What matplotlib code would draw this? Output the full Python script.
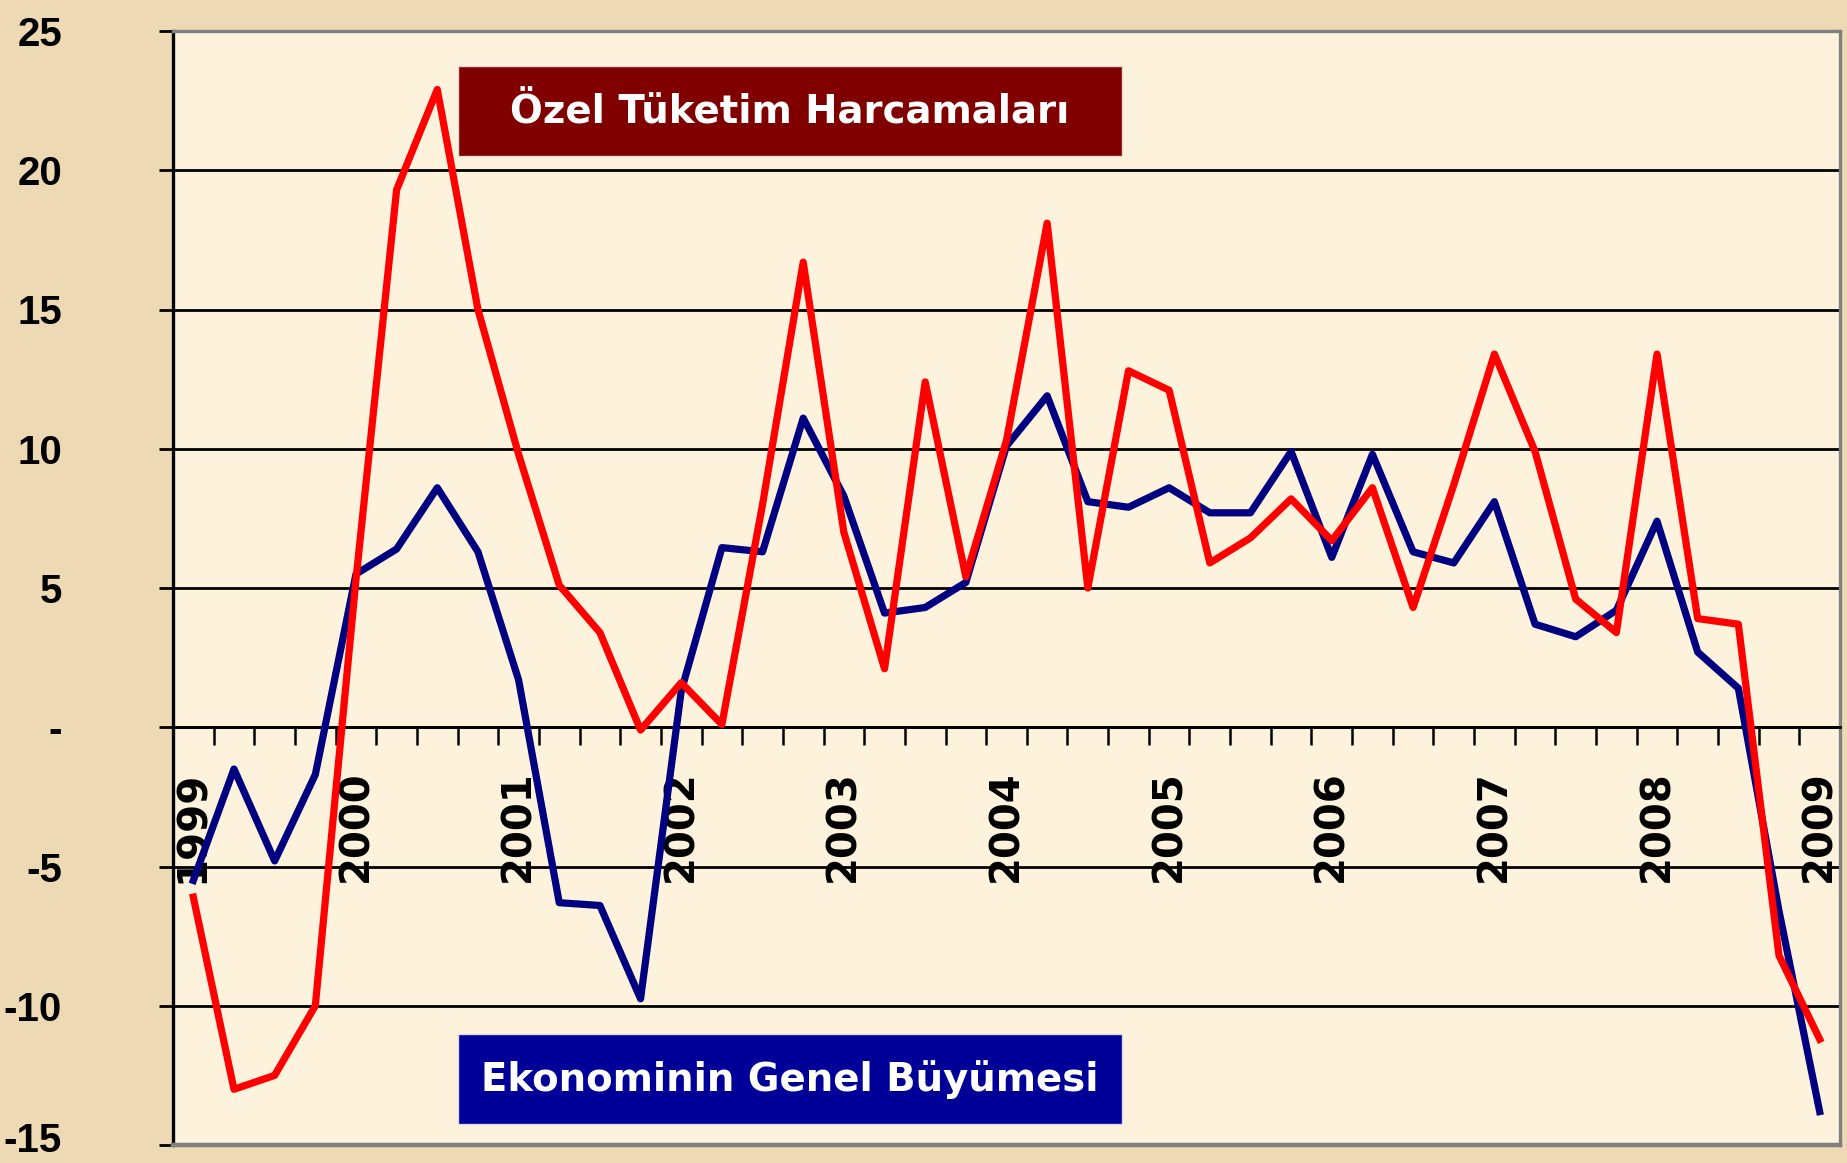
import matplotlib
matplotlib.use("Agg")
import matplotlib.pyplot as plt
import matplotlib.transforms as mtransforms
from matplotlib.patches import Rectangle

# quarterly growth, 1999 Q1 .. 2009 Q1
quarters = [f"{y}Q{q}" for y in range(1999, 2010) for q in range(1, 5)][:41]
year_labels = [str(y) for y in range(1999, 2010)]

ozel_tuketim = [-6.1, -13.0, -12.5, -10.0, 5.3, 19.3, 22.9, 15.0, 9.8, 5.1,
                3.4, -0.1, 1.6, 0.1, 8.0, 16.7, 7.0, 2.1, 12.4, 5.4,
                10.3, 18.1, 5.0, 12.8, 12.1, 5.9, 6.8, 8.2, 6.7, 8.6,
                4.3, 8.7, 13.4, 9.9, 4.6, 3.4, 13.4, 3.9, 3.7, -8.2, -11.2]
genel_buyume = [-5.5, -1.5, -4.8, -1.7, 5.5, 6.4, 8.6, 6.3, 1.7, -6.3,
                -6.4, -9.75, 1.3, 6.45, 6.3, 11.1, 8.3, 4.1, 4.3, 5.2,
                10.1, 11.9, 8.1, 7.9, 8.6, 7.7, 7.7, 9.9, 6.1, 9.8,
                6.3, 5.9, 8.1, 3.7, 3.25, 4.2, 7.4, 2.7, 1.4, -6.6, -13.8]

y_ticks = [25, 20, 15, 10, 5, 0, -5, -10, -15]
y_labels = ["25", "20", "15", "10", "5", "-", "-5", "-10", "-15"]

W, H = 1847, 1163
fig = plt.figure(figsize=(W / 100, H / 100), dpi=100, facecolor="#EDD9B3")
ax = fig.add_axes([173 / W, 18 / H, (1840 - 173) / W, (1145 - 31) / H])
ax.set_facecolor("#FDF3DD")

x = list(range(len(quarters)))
ax.plot(x, genel_buyume, color="#000080", lw=5.2, zorder=3)
ax.plot(x, ozel_tuketim, color="#FF0000", lw=5.2, zorder=4)

ax.set_xlim(-0.5, len(quarters) - 0.5)
ax.set_ylim(-15, 25)

# horizontal grid
ax.set_yticks(y_ticks)
ax.set_yticklabels(y_labels, family=["Liberation Sans", "DejaVu Sans"],
                   fontweight="bold", fontsize=29)
ax.yaxis.grid(True, color="black", lw=2.0)
ax.set_axisbelow(True)
ax.tick_params(axis="y", length=10, width=2.0, pad=70, color="black")

# keep the lowest label inside the picture
low = ax.get_yticklabels()[-1]
low.set_transform(low.get_transform() +
                  mtransforms.ScaledTranslation(0, 8 / 100, fig.dpi_scale_trans))

# x axis sits at zero, ticks between quarters, year labels under each Q1
ax.spines["bottom"].set_position(("data", 0))
ax.spines["bottom"].set_color("black")
ax.spines["bottom"].set_linewidth(2.0)
ax.spines["left"].set_color("black")
ax.spines["left"].set_linewidth(2.4)
for side in ["top", "right"]:
    ax.spines[side].set_color("#808080")
    ax.spines[side].set_linewidth(2.4)
ax.axhline(-15, color="#808080", lw=3.2, zorder=5, clip_on=False)

ax.set_xticks([k - 0.5 for k in range(1, len(quarters) + 1)])
ax.set_xticklabels([])
ax.tick_params(axis="x", which="major", length=13, width=1.8, direction="out")
ax.set_xticks(list(range(0, len(quarters), 4)), minor=True)
ax.set_xticklabels(year_labels, minor=True, rotation=90,
                   fontweight="bold", fontsize=29)
ax.tick_params(axis="x", which="minor", length=0, pad=31)

# label boxes
box_w, box_h = (1122 - 458) / W, 90 / H
fig.patches.append(Rectangle((458 / W, 1 - 156 / H), box_w, box_h,
                             transform=fig.transFigure, facecolor="#800000",
                             edgecolor="#E8D8D0", lw=1, zorder=10))
fig.text(790 / W, 1 - 112 / H, "Özel Tüketim Harcamaları", color="white",
         fontweight="bold", fontsize=27.8, ha="center", va="center", zorder=11)
fig.patches.append(Rectangle((458 / W, 1 - 1124 / H), box_w, box_h,
                             transform=fig.transFigure, facecolor="#000099",
                             edgecolor="#D8D8F0", lw=1, zorder=10))
fig.text(790 / W, 1 - 1080 / H, "Ekonominin Genel Büyümesi", color="white",
         fontweight="bold", fontsize=27.8, ha="center", va="center", zorder=11)

fig.savefig("out.png", dpi=100, facecolor=fig.get_facecolor())
